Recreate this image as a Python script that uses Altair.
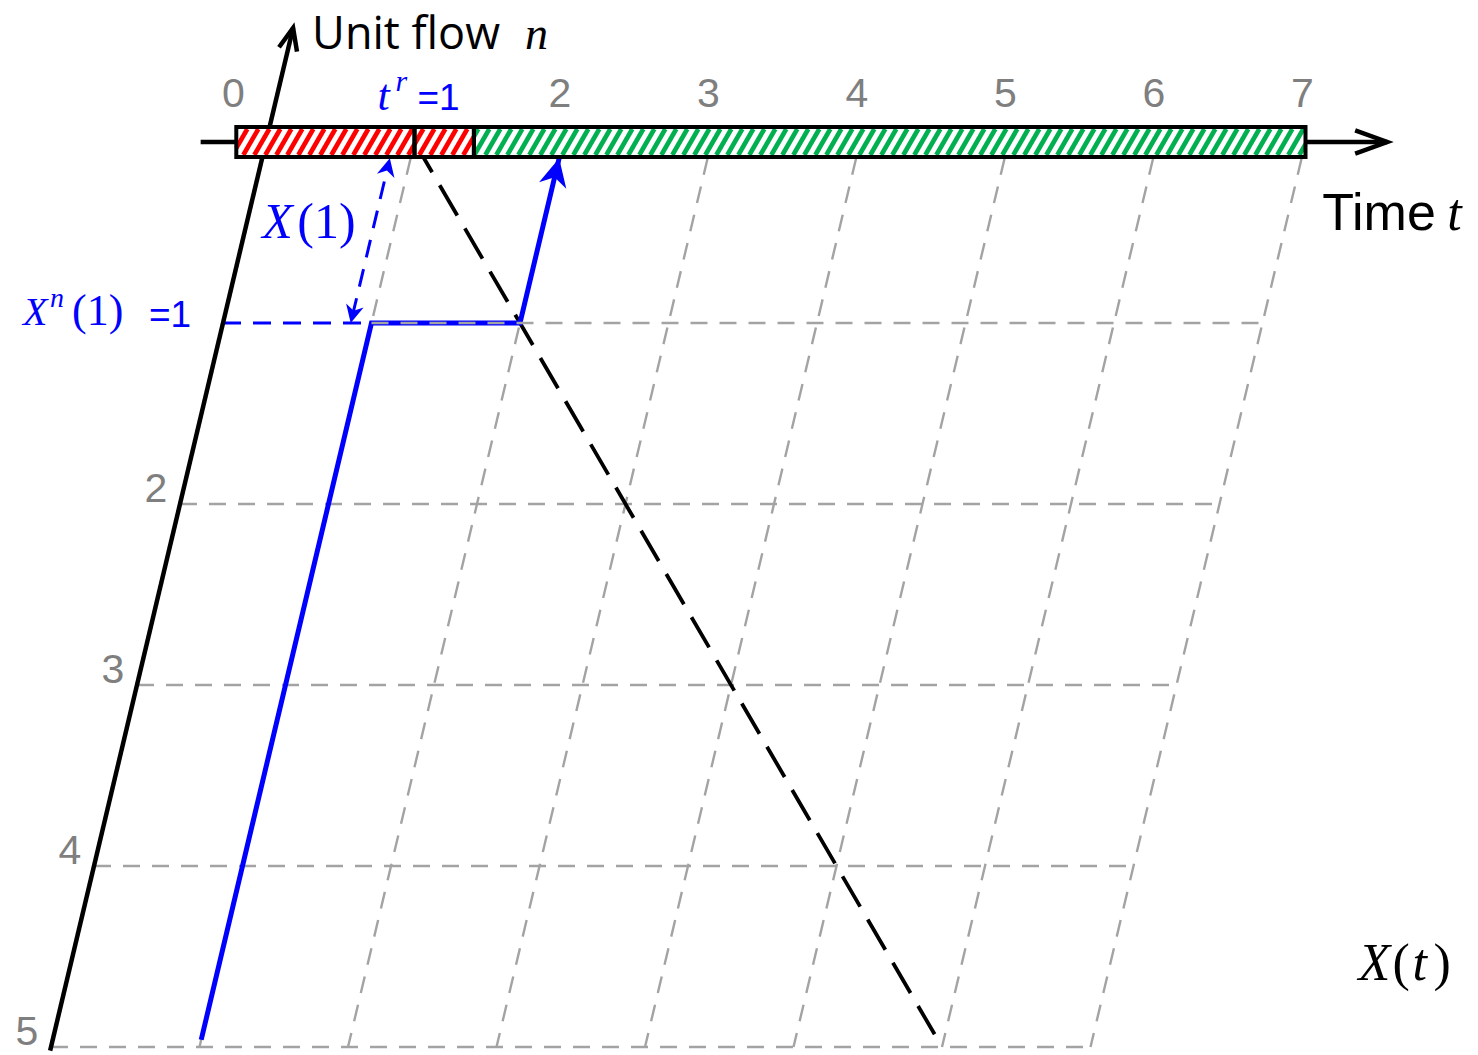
import altair as alt
import pandas as pd

# ---------------------------------------------------------------- data
# Tick values on the two axes
time_ticks = [0, 2, 3, 4, 5, 6, 7]
flow_ticks = [2, 3, 4, 5]

# Grid of the skewed (t, n) plane
grid_times = [1, 2, 3, 4, 5, 6, 7]
grid_flows = [1, 2, 3, 4, 5]
t_last = 7
n_last = 5

# Release time t^r and the flow level X^n(1)
release_time = 1
exit_flow = 1

# Time windows on the top bar
window_start = [-0.2, 1.0, 1.4]
window_end = [1.0, 1.4, 7.0]
window_color = ["#FF0000", "#FF0000", "#00B050"]

# Path of the unit flow (blue)
path_t = [1, 1, 2, 2]
path_n = [4.96, 1, 1, 0.09]

# Characteristic line t = 1 + n (black dashed)
char_t = [1, 5.93]
char_n = [0, 4.93]

# X(1) span
span_t = 0.86
span_n = [1, 0.09]

# Axis extents
n_axis = [5.02, -0.63]
t_axis = [-0.44, 7.55]

# ---------------------------------------------------------------- layout
W, H = 1478, 1055
PX_T = 148.5            # pixels per unit of time
PX_N = 181.0            # pixels per unit of flow
SKEW = 43 / PX_T        # leftward shift (in time units) per unit of flow
X0, Y0 = 266, 142       # pixel position of (t=0, n=0)

XS = alt.Scale(domain=[-X0 / PX_T, (W - X0) / PX_T], nice=False, zero=False)
YS = alt.Scale(domain=[-Y0 / PX_N, (H - Y0) / PX_N], nice=False, zero=False, reverse=True)

BLUE = "#0000FF"
GRID = "#A3A3A3"
TICK = "#7F7F7F"
SANS = "Liberation Sans"
SERIF = "Liberation Serif"
BAR_HALF = 0.083
GAP = 0.09
TILT = 13.36            # angle of the flow axis from vertical (degrees)


def X(f):
    return alt.X(f, type="quantitative", scale=XS, axis=None)


def Y(f):
    return alt.Y(f, type="quantitative", scale=YS, axis=None)


def segments(df, **mark):
    return alt.Chart(df).transform_calculate(
        u1=f"datum.t1 - {SKEW}*datum.n1",
        u2=f"datum.t2 - {SKEW}*datum.n2",
    ).mark_rule(**mark).encode(x=X("u1"), x2=alt.X2("u2"), y=Y("n1"), y2=alt.Y2("n2"))


def seg(t1, n1, t2, n2, **mark):
    return segments(pd.DataFrame({"t1": [t1], "n1": [n1], "t2": [t2], "n2": [n2]}), **mark)


def head(t, n, shape, size, angle, color, filled, stroke=0.0):
    df = pd.DataFrame({"t": [t], "n": [n]})
    kw = dict(shape=shape, size=size, angle=angle, color=color, filled=filled, opacity=1)
    if not filled:
        kw["strokeWidth"] = stroke
    return alt.Chart(df).transform_calculate(u=f"datum.t - {SKEW}*datum.n").mark_point(
        **kw).encode(x=X("u"), y=Y("n"))


def note(text, t, n, dx, dy, size, font, color, style="normal", align="left"):
    df = pd.DataFrame({"t": [t], "n": [n], "label": [text]})
    return alt.Chart(df).transform_calculate(u=f"datum.t - {SKEW}*datum.n").mark_text(
        dx=dx, dy=dy, fontSize=size, font=font, color=color, fontStyle=style,
        align=align, baseline="alphabetic",
    ).encode(x=X("u"), y=Y("n"), text="label:N")


CHEVRON = "M -0.36 1 L 0 0 L 0.36 1"
CHEVRON_N = "M -0.42 1 L 0 0 L 0.42 1"
STEALTH = "M 0 0 L 0.5 1 L 0 0.7 L -0.5 1 Z"

layers = []

# grid: rows of constant flow (row 1 starts at the release time) and slanted time lines
rows = pd.DataFrame({"n1": grid_flows, "n2": grid_flows,
                     "t1": [release_time if n == exit_flow else 0 for n in grid_flows],
                     "t2": [t_last] * len(grid_flows)})
cols = pd.DataFrame({"t1": grid_times, "t2": grid_times,
                     "n1": [GAP] * len(grid_times), "n2": [n_last] * len(grid_times)})
grid_style = dict(color=GRID, strokeWidth=2.4, strokeDash=[17, 12])
layers.append(segments(rows[rows.n1 != exit_flow], **grid_style))
layers.append(segments(cols, **grid_style))

# characteristic line
layers.append(seg(char_t[0], char_n[0], char_t[1], char_n[1],
                  color="black", strokeWidth=3.8, strokeDash=[35, 15]))

# X^n(1) level and X(1) span (blue dashed)
layers.append(seg(0, exit_flow, release_time, exit_flow, color=BLUE, strokeWidth=3, strokeDash=[18, 12]))
layers.append(seg(span_t, span_n[0] - 0.04, span_t, span_n[1] + 0.05,
                  color=BLUE, strokeWidth=3, strokeDash=[18, 12]))

# unit flow path
path = pd.DataFrame({"t": path_t, "n": path_n, "k": range(len(path_t))})
layers.append(alt.Chart(path).transform_calculate(u=f"datum.t - {SKEW}*datum.n").mark_line(
    color=BLUE, strokeWidth=5).encode(x=X("u"), y=Y("n"), order="k:Q"))

# grid row at X^n(1), drawn over the path
layers.append(segments(rows[rows.n1 == exit_flow], **grid_style))

# axes
layers.append(seg(0, n_axis[0], 0, n_axis[1], color="black", strokeWidth=4.5))
layers.append(seg(t_axis[0], 0, t_axis[1], 0, color="black", strokeWidth=4.5))

# top bar: white background, hatching, black outline
win = pd.DataFrame({"a": window_start, "b": window_end, "c": window_color,
                    "lo": [BAR_HALF] * 3, "hi": [-BAR_HALF] * 3})
layers.append(alt.Chart(win).mark_rect(color="white", opacity=1).encode(
    x=X("a"), x2=alt.X2("b"), y=Y("lo"), y2=alt.Y2("hi")))

SP = 11 / PX_T
RUN = 15 / PX_T
N_IN = 0.0718
count = int((window_end[-1] - window_start[0] + RUN) / SP) + 3
origin = window_start[0] - RUN
for a, b, c in zip(window_start, window_end, window_color):
    layers.append(
        alt.Chart(alt.sequence(0, count, as_="i"))
        .transform_calculate(xb=f"{origin} + datum.i*{SP}")
        .transform_calculate(p0=f"max(0, ({a} - datum.xb)/{RUN})",
                             p1=f"min(1, ({b} - datum.xb)/{RUN})")
        .transform_filter("datum.p1 > datum.p0")
        .transform_calculate(xa=f"datum.xb + {RUN}*datum.p0",
                             xc=f"datum.xb + {RUN}*datum.p1",
                             ya=f"{N_IN} - {2 * N_IN}*datum.p0",
                             yc=f"{N_IN} - {2 * N_IN}*datum.p1")
        .mark_rule(color=c, strokeWidth=4.6)
        .encode(x=X("xa"), x2=alt.X2("xc"), y=Y("ya"), y2=alt.Y2("yc"))
    )

layers.append(alt.Chart(win).mark_rect(fillOpacity=0, stroke="black", strokeWidth=4).encode(
    x=X("a"), x2=alt.X2("b"), y=Y("lo"), y2=alt.Y2("hi")))

# arrow heads
layers.append(head(0, n_axis[1], CHEVRON_N, 1936, TILT, "black", False, 4.5))
layers.append(head(t_axis[1], 0, CHEVRON, 4096, 90, "black", False, 4.5))
layers.append(head(path_t[-1], path_n[-1], STEALTH, 3136, TILT, BLUE, True))
layers.append(head(span_t, span_n[1], STEALTH, 1296, TILT, BLUE, True))
layers.append(head(span_t, span_n[0], STEALTH, 1296, 180 + TILT, BLUE, True))

# tick labels
tt = pd.DataFrame({"t": [t if t > 0 else window_start[0] for t in time_ticks],
                   "n": [0] * len(time_ticks), "label": [str(t) for t in time_ticks]})
layers.append(alt.Chart(tt).transform_calculate(u="datum.t").mark_text(
    dx=-3, dy=-35, fontSize=41, font=SANS, color=TICK, align="center", baseline="alphabetic"
).encode(x=X("u"), y=Y("n"), text="label:N"))

ft = pd.DataFrame({"t": [0] * len(flow_ticks), "n": flow_ticks, "label": [str(n) for n in flow_ticks]})
layers.append(alt.Chart(ft).transform_calculate(u=f"datum.t - {SKEW}*datum.n").mark_text(
    dx=-24, dy=-2, fontSize=41, font=SANS, color=TICK, align="center", baseline="alphabetic"
).encode(x=X("u"), y=Y("n"), text="label:N"))

# t^r = 1
layers.append(note("t", release_time, 0, -37, -32, 44, SERIF, BLUE, "italic"))
layers.append(note("r", release_time, 0, -19, -51, 30, SERIF, BLUE, "italic"))
layers.append(note("=1", release_time, 0, 3, -32, 37, SANS, BLUE))

# X^n(1) = 1
layers.append(note("X", 0, exit_flow, -200, 2, 40, SERIF, BLUE, "italic"))
layers.append(note("n", 0, exit_flow, -173, -16, 28, SERIF, BLUE, "italic"))
layers.append(note("(1)", 0, exit_flow, -151, 2, 44, SERIF, BLUE))
layers.append(note("=1", 0, exit_flow, -74, 4, 37, SANS, BLUE))

# X(1) next to the span
mid = (span_n[0] + span_n[1]) / 2
layers.append(note("X", span_t, mid, -108, -3, 50, SERIF, BLUE, "italic"))
layers.append(note("(1)", span_t, mid, -73, -3, 50, SERIF, BLUE))

# X(t)
layers.append(note("X", t_last, n_last, 268, -67, 52, SERIF, "black", "italic"))
layers.append(note("(", t_last, n_last, 302, -67, 52, SERIF, "black"))
layers.append(note("t", t_last, n_last, 322, -67, 52, SERIF, "black", "italic"))
layers.append(note(")", t_last, n_last, 343, -67, 52, SERIF, "black"))

# axis titles
layers.append(note("Unit flow", 0, n_axis[1], 19, 21, 45, "Open Sans", "black"))
layers.append(note("n", 0, n_axis[1], 232, 21, 46, SERIF, "black", "italic"))
layers.append(note("Time", t_axis[1], 0, -65, 88, 52, SANS, "black"))
layers.append(note("t", t_axis[1], 0, 60, 88, 52, SERIF, "black", "italic"))

chart = alt.layer(*layers).properties(
    width=W, height=H, padding=0,
    autosize=alt.AutoSizeParams(type="none"),
    background="white",
).configure_view(stroke=None)

chart.save("out.html", embed_options={"renderer": "svg", "actions": False})
